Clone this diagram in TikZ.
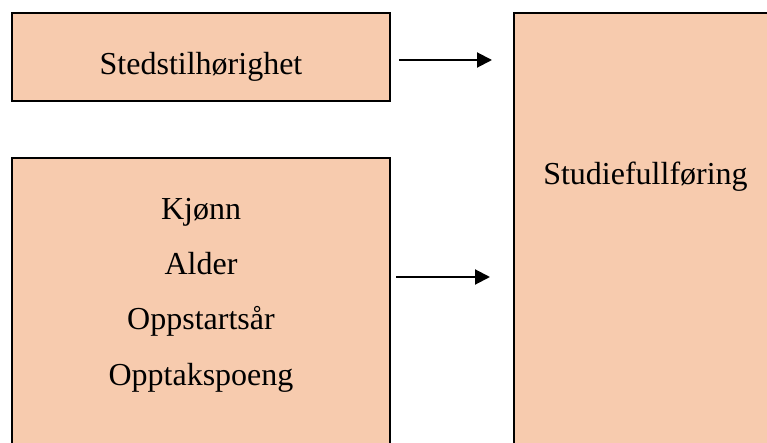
\documentclass[tikz,border=0pt]{standalone}
\usepackage{fontspec}
\setmainfont{Liberation Serif}
\usetikzlibrary{arrows.meta}
\definecolor{boxfill}{RGB}{247,203,174}
\begin{document}
\begin{tikzpicture}[x=1pt,y=-1pt,
  box/.style={draw=black,line width=2pt,fill=boxfill,inner sep=0pt},
  lbl/.style={anchor=base,inner sep=0pt,font=\fontsize{32}{38}\selectfont},
  conn/.style={line width=2pt,-{Triangle[length=15pt,width=15pt]}}]
\useasboundingbox (0,0) rectangle (767,443);
\clip (0,0) rectangle (767,443);
\fill[white] (0,0) rectangle (767,443);
\node[box,minimum width=378pt,minimum height=88pt] (top) at (201,57) {};
\node[box,minimum width=378pt,minimum height=300pt] (bot) at (201,308) {};
\node[box,minimum width=263pt,minimum height=445pt] (res) at (645.5,235.5) {};
\node[lbl] (t1) at (201,75) {Stedstilhørighet};
\node[lbl] (t2) at (201,220) {Kjønn};
\node[lbl] (t3) at (201,274) {Alder};
\node[lbl] (t4) at (201,329) {Oppstartsår};
\node[lbl] (t5) at (201,385) {Opptakspoeng};
\node[lbl] (t6) at (645.5,185) {Studiefullføring};
\draw[conn,shorten <=8pt,shorten >=21pt] (top.east |- 0,60) -- (res.west |- 0,60);
\draw[conn,shorten <=5pt,shorten >=23pt] (bot.east |- 0,277) -- (res.west |- 0,277);
\end{tikzpicture}
\end{document}
